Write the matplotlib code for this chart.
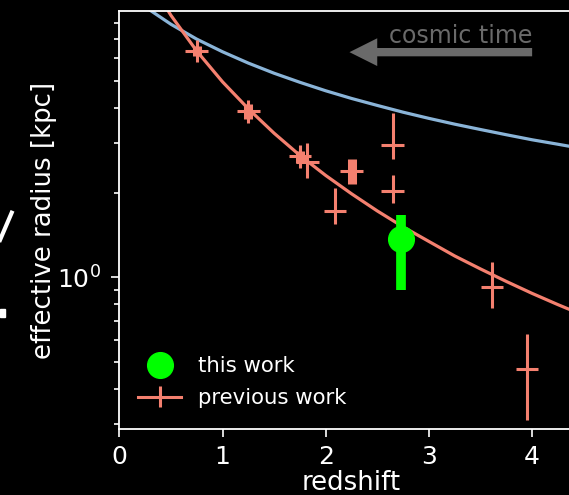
import numpy as np
import matplotlib
matplotlib.use("Agg")
import matplotlib.pyplot as plt
from matplotlib.lines import Line2D
from matplotlib.patches import Rectangle

# --- values ---
# previous work, thin crosses (z, r_eff, lower, upper)
prev_z = [0.75, 1.25, 1.75, 1.82, 2.09, 2.25, 2.65, 2.65, 3.61, 3.95]
prev_r = [6.38, 3.89, 2.69, 2.57, 1.72, 2.38, 2.96, 2.02, 0.92, 0.47]
prev_lo = [5.80, 3.54, 2.45, 2.25, 1.54, 2.30, 2.64, 1.83, 0.78, 0.31]
prev_hi = [6.97, 4.28, 2.96, 3.00, 2.08, 2.46, 3.82, 2.30, 1.13, 0.63]
prev_zerr = 0.11

# previous work, binned (thick bars)
bin_z = [0.75, 1.25, 1.75, 2.25]
bin_r = [6.36, 3.88, 2.68, 2.38]
bin_lo = [6.09, 3.64, 2.55, 2.14]
bin_hi = [6.64, 4.14, 2.82, 2.64]

# this work
this_z = [2.73]
this_r = [1.37]
this_lo = [0.90]
this_hi = [1.66]

# curves
curve_z = [0.25, 0.5, 0.75, 1.0, 1.25, 1.5, 1.75, 2.0, 2.25, 2.5, 2.75,
           3.0, 3.25, 3.5, 3.75, 4.0, 4.25, 4.5]
fit_r = [12.04, 8.53, 6.37, 4.95, 3.97, 3.25, 2.71, 2.30, 1.98, 1.72, 1.51,
         1.34, 1.19, 1.07, 0.966, 0.876, 0.799, 0.732]
blue_r = [9.14, 7.93, 7.02, 6.33, 5.77, 5.31, 4.93, 4.60, 4.32, 4.08, 3.86,
          3.67, 3.50, 3.35, 3.21, 3.08, 2.97, 2.86]

SALMON = '#f4806f'
BLUE = '#8ab4d8'
GREEN = '#00ff00'
GREY = '#6a6a6a'

plt.rcParams['font.family'] = 'DejaVu Sans'

W, H = 569, 495
fig = plt.figure(figsize=(W / 100, H / 100), dpi=100, facecolor='black')
# axes runs a bit past the right edge of the picture, like the reference
ax = fig.add_axes([0.2097, 0.1327, 0.8162, 0.8457], facecolor='black')

ax.plot(curve_z, blue_r, color=BLUE, lw=2.3, zorder=2)
ax.plot(curve_z, fit_r, color=SALMON, lw=2.3, zorder=2)

prev_r_a = np.array(prev_r)
yerr = [prev_r_a - np.array(prev_lo), np.array(prev_hi) - prev_r_a]
ax.errorbar(prev_z, prev_r, xerr=prev_zerr, yerr=yerr, fmt='none',
            ecolor=SALMON, elinewidth=2.2, zorder=3)

bin_r_a = np.array(bin_r)
berr = [bin_r_a - np.array(bin_lo), np.array(bin_hi) - bin_r_a]
ax.errorbar(bin_z, bin_r, yerr=berr, fmt='none', ecolor=SALMON,
            elinewidth=6.5, zorder=3)

this_r_a = np.array(this_r)
terr = [this_r_a - np.array(this_lo), np.array(this_hi) - this_r_a]
ax.errorbar(this_z, this_r, yerr=terr, fmt='o', color=GREEN, ms=18.5,
            elinewidth=7, zorder=4)

# legend handles
h1, = ax.plot([], [], 'o', color=GREEN, ms=18.5, label='this work')
h2 = ax.errorbar([], [], yerr=[], fmt='-', color=SALMON, lw=2.2,
                 label='previous work')

# cosmic time arrow
ax.annotate('', xy=(2.23, 6.31), xytext=(4.0, 6.31),
            arrowprops=dict(facecolor=GREY, edgecolor='none', width=6,
                            headwidth=20, headlength=20, shrink=0))
ax.text(4.0, 6.82, 'cosmic time', color=GREY, fontsize=17,
        ha='right', va='baseline')

ax.set_yscale('log')
ax.set_xlim(0, 4.5)
ax.set_ylim(0.288, 8.86)
ax.set_xticks([0, 1, 2, 3, 4])

ax.set_xlabel('redshift', color='white', fontsize=18.7, labelpad=1)
ax.set_ylabel('effective radius [kpc]', color='white', fontsize=18.7,
              labelpad=0)

for s in ax.spines.values():
    s.set_color('white')
    s.set_linewidth(1.3)
ax.tick_params(which='both', colors='white', labelsize=18, width=1.2)
ax.tick_params(which='major', length=6)
ax.tick_params(which='minor', length=3.5)
ax.tick_params(axis='y', which='major', pad=7)
ax.tick_params(axis='x', which='major', pad=5)

leg = ax.legend(handles=[h1, h2], loc='lower left', frameon=False,
                fontsize=15.3, bbox_to_anchor=(0.0, 0.005),
                labelspacing=0.55)
for t in leg.get_texts():
    t.set_color('white')

# bits of neighbouring panel text cut off at the left edge
fig.add_artist(Line2D([11.7 / W, 0.0], [1 - 212.7 / H, 1 - 240 / H],
                      color='white', lw=3, transform=fig.transFigure))
fig.add_artist(Rectangle((0, 1 - 317 / H), 4.5 / W, 8.5 / H,
                         color='white', transform=fig.transFigure))

fig.savefig('out.png', dpi=100, facecolor='black')
